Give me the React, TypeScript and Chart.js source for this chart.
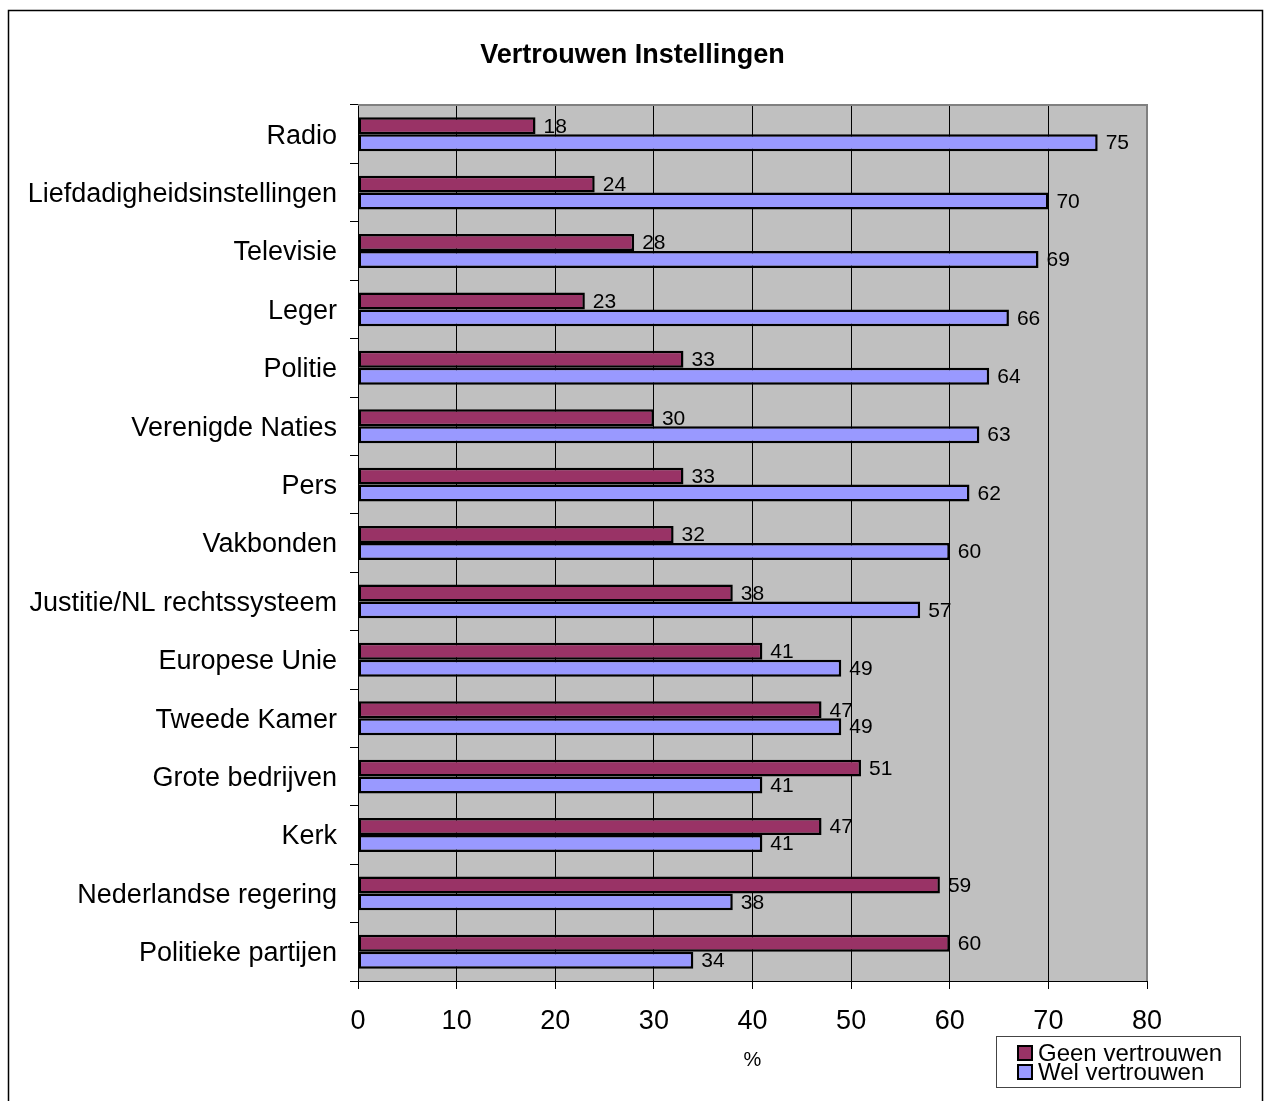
import React, { useEffect, useRef } from "react";
import { Chart, registerables } from "chart.js";

Chart.register(...registerables);

const categories = [
  "Radio",
  "Liefdadigheidsinstellingen",
  "Televisie",
  "Leger",
  "Politie",
  "Verenigde Naties",
  "Pers",
  "Vakbonden",
  "Justitie/NL rechtssysteem",
  "Europese Unie",
  "Tweede Kamer",
  "Grote bedrijven",
  "Kerk",
  "Nederlandse regering",
  "Politieke partijen",
];

const geenVertrouwen = [18, 24, 28, 23, 33, 30, 33, 32, 38, 41, 47, 51, 47, 59, 60];
const welVertrouwen = [75, 70, 69, 66, 64, 63, 62, 60, 57, 49, 49, 41, 41, 38, 34];

const seriesNames = ["Geen vertrouwen", "Wel vertrouwen"];
const seriesColors = ["#993366", "#9999FF"];

const chartTitle = "Vertrouwen Instellingen";
const axisTitle = "%";
const xMin = 0;
const xMax = 80;
const xStep = 10;

const FONT = "'Liberation Sans', Arial, sans-serif";

const decorPlugin = {
  id: "decor",
  beforeDraw(chart: any) {
    const { ctx, chartArea } = chart;
    ctx.save();
    ctx.fillStyle = "#ffffff";
    ctx.fillRect(0, 0, chart.width, chart.height);
    ctx.fillStyle = "#C0C0C0";
    ctx.fillRect(chartArea.left, chartArea.top, chartArea.right - chartArea.left, chartArea.bottom - chartArea.top);
    ctx.restore();
  },
  beforeDatasetsDraw(chart: any) {
    const { ctx, chartArea } = chart;
    ctx.save();
    ctx.strokeStyle = "#808080";
    ctx.lineWidth = 2;
    ctx.beginPath();
    ctx.moveTo(chartArea.left, chartArea.top);
    ctx.lineTo(chartArea.right, chartArea.top);
    ctx.lineTo(chartArea.right, chartArea.bottom);
    ctx.stroke();
    ctx.restore();
  },
  afterDatasetsDraw(chart: any) {
    const { ctx, chartArea } = chart;
    ctx.save();
    // value labels
    ctx.fillStyle = "#000";
    ctx.font = `21px ${FONT}`;
    ctx.textAlign = "left";
    ctx.textBaseline = "middle";
    chart.data.datasets.forEach((ds: any, di: number) => {
      const meta = chart.getDatasetMeta(di);
      meta.data.forEach((el: any, i: number) => {
        ctx.fillText(String(ds.data[i]), el.x + 8, el.y + 1);
      });
    });

    // title
    ctx.font = `bold 27px ${FONT}`;
    ctx.textAlign = "center";
    ctx.fillText(chartTitle, chart.width / 2, 56);

    // axis title
    ctx.font = `20px ${FONT}`;
    ctx.fillText(axisTitle, (chartArea.left + chartArea.right) / 2, 1060);

    // outer border
    ctx.strokeStyle = "#000";
    ctx.lineWidth = 1.5;
    ctx.strokeRect(8.5, 10.5, 1254, 1100);

    // legend
    ctx.strokeStyle = "#444";
    ctx.lineWidth = 1;
    ctx.strokeRect(996.5, 1036.5, 244, 51);
    ctx.font = `24px ${FONT}`;
    ctx.textAlign = "left";
    ctx.textBaseline = "middle";
    seriesNames.forEach((name, i) => {
      const cy = 1053 + i * 19;
      ctx.fillStyle = seriesColors[i];
      ctx.fillRect(1017, cy - 8, 16, 16);
      ctx.strokeStyle = "#000";
      ctx.lineWidth = 2;
      ctx.strokeRect(1018, cy - 7, 14, 14);
      ctx.fillStyle = "#000";
      ctx.fillText(name, 1038, cy + 1);
    });
    ctx.restore();
  },
};

export default function App() {
  const ref = useRef<HTMLCanvasElement | null>(null);

  useEffect(() => {
    document.body.style.margin = "0";
    document.body.style.overflow = "hidden";
    const canvas = ref.current;
    if (!canvas) return;
    const chart = new Chart(canvas, {
      type: "bar",
      data: {
        labels: categories,
        datasets: [
          {
            label: seriesNames[0],
            data: geenVertrouwen,
            backgroundColor: seriesColors[0],
            borderColor: "#000",
            borderWidth: 2.5,
            borderSkipped: false,
            categoryPercentage: 0.58,
            barPercentage: 1.0,
          },
          {
            label: seriesNames[1],
            data: welVertrouwen,
            backgroundColor: seriesColors[1],
            borderColor: "#000",
            borderWidth: 2.5,
            borderSkipped: false,
            categoryPercentage: 0.58,
            barPercentage: 1.0,
          },
        ],
      },
      options: {
        indexAxis: "y",
        animation: false,
        responsive: false,
        maintainAspectRatio: false,
        layout: { padding: { top: 105, left: 0, right: 118, bottom: 0 } },
        plugins: {
          legend: { display: false },
          title: { display: false },
          tooltip: { enabled: false },
        },
        scales: {
          x: {
            type: "linear",
            min: xMin,
            max: xMax,
            ticks: {
              stepSize: xStep,
              color: "#000",
              font: { family: FONT, size: 27 },
              padding: 16,
            },
            grid: {
              color: (c: any) => (c.tick && c.tick.value === xMax ? "rgba(0,0,0,0)" : "#000"),
              tickColor: "#000",
              lineWidth: 1,
              tickLength: 8,
              drawOnChartArea: true,
            },
            border: { display: true, color: "#000", width: 1 },
            afterFit: (scale: any) => {
              scale.height = 120;
            },
          },
          y: {
            type: "category",
            ticks: {
              color: "#000",
              font: { family: FONT, size: 27 },
              padding: 13,
              labelOffset: 2,
            },
            grid: {
              offset: true,
              drawOnChartArea: false,
              drawTicks: true,
              tickLength: 8,
              color: "#000",
              tickColor: "#000",
            },
            border: { display: true, color: "#000", width: 1 },
            afterFit: (scale: any) => {
              scale.width = 358;
            },
          },
        },
      },
      plugins: [decorPlugin],
    });
    return () => chart.destroy();
  }, []);

  return (
    <div style={{ width: 1265, height: 1101 }}>
      <canvas ref={ref} width={1265} height={1101} style={{ display: "block" }} />
    </div>
  );
}
